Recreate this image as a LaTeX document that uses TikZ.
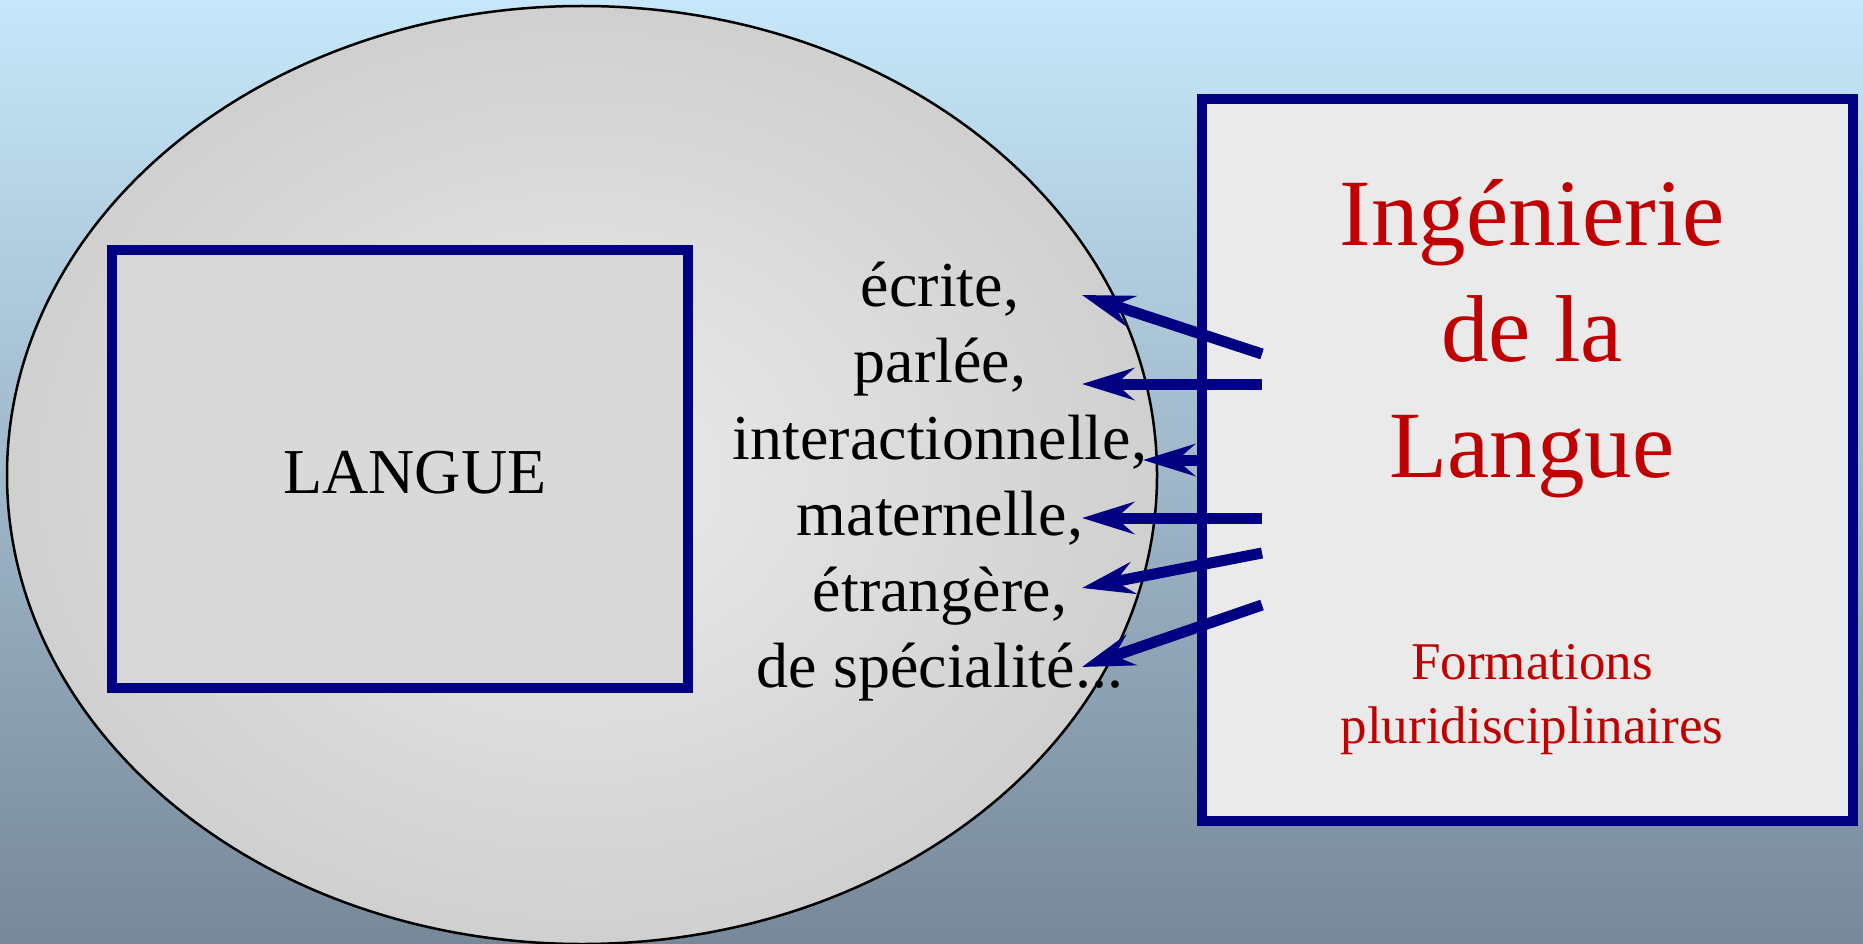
\documentclass[tikz,border=0pt]{standalone}
\usepackage{fontspec}
\setmainfont{Liberation Serif}
\usetikzlibrary{arrows.meta}
\definecolor{skytop}{RGB}{198,231,250}
\definecolor{slatebottom}{RGB}{119,136,153}
\definecolor{boxblue}{RGB}{0,0,128}
\definecolor{titlered}{RGB}{192,0,0}
\definecolor{ovalin}{RGB}{235,235,235}
\definecolor{ovalout}{RGB}{208,208,208}
\definecolor{boxgray}{RGB}{217,217,217}
\definecolor{panelgray}{RGB}{234,234,234}

\begin{document}
\begin{tikzpicture}[x=1pt,y=-1pt,
  frame/.style={draw=boxblue, line width=10pt, inner sep=0pt},
  usage/.style={anchor=base, inner sep=0pt, font=\fontsize{64}{76}\selectfont},
  title/.style={anchor=base, inner sep=0pt, text=titlered, font=\fontsize{95}{116}\selectfont},
  subtitle/.style={anchor=base, inner sep=0pt, text=titlered, font=\fontsize{53}{64}\selectfont},
  link/.style={draw=boxblue, line width=11pt, -{Stealth[length=52pt,width=32pt,inset=18pt]}}]
\useasboundingbox (0,0) rectangle (1863,944);
\shade[top color=skytop, bottom color=slatebottom] (0,0) rectangle (1863,944);
% the oval and the two frames
\draw[line width=2.5pt, inner color=ovalin, outer color=ovalout] (582,475) ellipse [x radius=575, y radius=469];
\node[frame, fill=boxgray, minimum width=576pt, minimum height=438pt] (langbox) at (400,469) {};
\node[frame, fill=panelgray, minimum width=651pt, minimum height=722pt] (panel) at (1527.5,460) {};
\node[usage] (langue) at (415,493) {LANGUE};
% kinds of language
\node[usage] (ecrite) at (940,306) {écrite,};
\node[usage] (parlee) at (940,382) {parlée,};
\node[usage] (inter) at (940,459) {interactionnelle,};
\node[usage] (mater) at (940,535) {maternelle,};
\node[usage] (etrang) at (940,611) {étrangère,};
\node[usage] (spec) at (940,687) {de spécialité...};
% title of the panel
\node[title] (inge) at (1532,245) {Ingénierie};
\node[title] (dela) at (1532,361) {de la};
\node[title] (lang) at (1532,477) {Langue};
\node[subtitle] (form) at (1532,679) {Formations};
\node[subtitle] (pluri) at (1532,743) {pluridisciplinaires};
% arrows
\coordinate (t1) at (1262,354); \coordinate (h1) at (1082,295);
\coordinate (t2) at (1262,384); \coordinate (h2) at (1082,384);
\coordinate (t3) at (1202,460); \coordinate (h3) at (1143,460);
\coordinate (t4) at (1262,518); \coordinate (h4) at (1082,518);
\coordinate (t5) at (1262,553); \coordinate (h5) at (1082,588);
\coordinate (t6) at (1262,605); \coordinate (h6) at (1082,667);
\foreach \i in {1,...,6}
  \draw[link] (t\i) -- (h\i);
\end{tikzpicture}
\end{document}
